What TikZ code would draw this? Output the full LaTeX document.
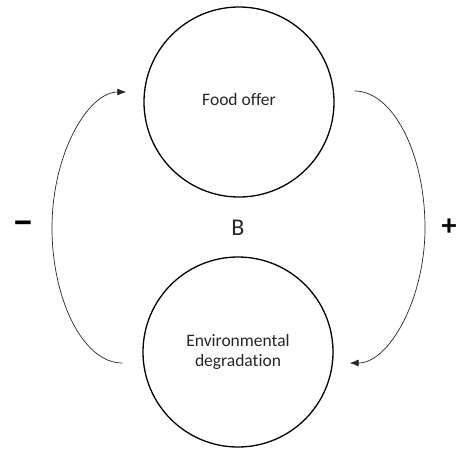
\documentclass[tikz,border=0pt]{standalone}
\usepackage{fontspec}
\setmainfont{Carlito}[Ligatures={NoCommon}]
\usetikzlibrary{calc,arrows.meta}
\begin{document}
\begin{tikzpicture}[x=1pt,y=-1pt,
  stock/.style={circle,draw=black,line width=1.3pt,minimum size=190pt,inner sep=0pt,
    font=\fontsize{17.5}{20}\selectfont,text=black!85,align=center},
  link/.style={draw=black!85,line width=0.7pt,-{Latex[length=9pt,width=7pt]}},
  sign/.style={text=black}]
\useasboundingbox (0,0) rectangle (456,448);
\node[stock] (food) at (239,102) {\raisebox{6pt}{Food offer}};
\node[stock] (env) at (238,352) {Environmental\\degradation};
\node[font=\fontsize{24}{26}\selectfont,text=black!85] (B) at (238,228) {B};
\node[sign,font=\fontsize{40}{40}\selectfont] (minus) at (23,228) {\textbf{−}};
\node[sign,font=\fontsize{30}{30}\selectfont] (plus) at (449,227) {\textbf{+}};
\coordinate (l1) at ($(env.west)+(-20,11)$);
\coordinate (l2) at ($(food.west)+(-17,-10)$);
\coordinate (r1) at ($(food.east)+(20,-11)$);
\coordinate (r2) at ($(env.east)+(16,11)$);
\draw[link] (l1) .. controls +(-40,0) and +(0,70) .. (52,228) .. controls +(0,-75) and +(-38,0) .. (l2);
\draw[link] (r1) .. controls +(38,0) and +(0,-75) .. (425,228) .. controls +(0,70) and +(40,0) .. (r2);
\end{tikzpicture}
\end{document}
